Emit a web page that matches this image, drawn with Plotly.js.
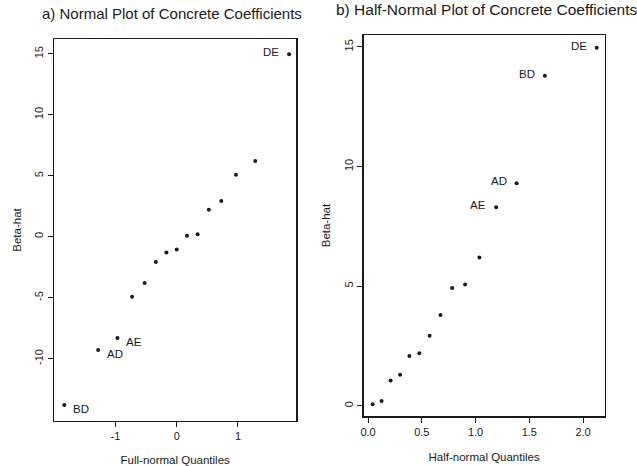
<!DOCTYPE html>
<html>
<head>
<meta charset="utf-8">
<script src="https://cdn.plot.ly/plotly-3.0.1.min.js"></script>
<style>html,body{margin:0;padding:0;background:#fff;}#chart{width:637px;height:466px;}</style>
</head>
<body>
<div id="chart"></div>
<script>
// Panel a: normal quantiles vs. effect estimates
const fullQuantiles = [-1.834, -1.282, -0.967, -0.728, -0.524, -0.341, -0.168, 0.0, 0.168, 0.341, 0.524, 0.728, 0.967, 1.282, 1.834];
const fullBeta = [-13.8, -9.3, -8.3, -4.93, -3.8, -2.08, -1.3, -1.06, 0.07, 0.2, 2.2, 2.93, 5.07, 6.2, 14.96];
const fullLabels = ["BD", "AD", "AE", "", "", "", "", "", "", "", "", "", "", "", "DE"];
const fullLabelSide = ["right", "right", "right", "", "", "", "", "", "", "", "", "", "", "", "left"];

// Panel b: half-normal quantiles vs. absolute effects
const halfQuantiles = [0.042, 0.126, 0.210, 0.298, 0.385, 0.477, 0.573, 0.674, 0.783, 0.903, 1.036, 1.192, 1.383, 1.645, 2.128];
const halfBeta = [0.07, 0.2, 1.06, 1.3, 2.08, 2.2, 2.93, 3.8, 4.93, 5.07, 6.2, 8.3, 9.3, 13.8, 14.96];
const halfLabels = ["", "", "", "", "", "", "", "", "", "", "", "AE", "AD", "BD", "DE"];

const titleA = "a) Normal Plot of Concrete Coefficients";
const titleB = "b) Half-Normal Plot of Concrete Coefficients";
const xTitleA = "Full-normal Quantiles";
const xTitleB = "Half-normal Quantiles";
const yTitle = "Beta-hat";

const fontFam = "Liberation Sans, Arial, sans-serif";
const ink = "#1a1a1a";

const traces = [
  {
    x: fullQuantiles, y: fullBeta,
    type: "scatter", mode: "markers",
    marker: {color: ink, size: 4},
    xaxis: "x", yaxis: "y", hoverinfo: "x+y", showlegend: false, cliponaxis: false
  },
  {
    x: halfQuantiles, y: halfBeta,
    type: "scatter", mode: "markers",
    marker: {color: ink, size: 4},
    xaxis: "x2", yaxis: "y2", hoverinfo: "x+y", showlegend: false, cliponaxis: false
  }
];

const labelFont = {family: fontFam, size: 11.5, color: ink};
const annotations = [];
fullLabels.forEach((lab, i) => {
  if (!lab) return;
  const right = fullLabelSide[i] === "right";
  annotations.push({
    text: lab, x: fullQuantiles[i], y: fullBeta[i], xref: "x", yref: "y",
    showarrow: false, xanchor: right ? "left" : "right", yanchor: "middle",
    xshift: right ? 7 : -8, yshift: right ? -4 : 2, font: labelFont
  });
});
halfLabels.forEach((lab, i) => {
  if (!lab) return;
  annotations.push({
    text: lab, x: halfQuantiles[i], y: halfBeta[i], xref: "x2", yref: "y2",
    showarrow: false, xanchor: "right", yanchor: "middle",
    xshift: -8, yshift: 2, font: labelFont
  });
});
annotations.push(
  {text: titleA, xref: "paper", yref: "paper", x: 40/637, y: 1 - 13/466,
   xanchor: "left", yanchor: "middle", showarrow: false,
   font: {family: fontFam, size: 15, color: ink}},
  {text: titleB, xref: "paper", yref: "paper", x: 334/637, y: 1 - 10/466,
   xanchor: "left", yanchor: "middle", showarrow: false,
   font: {family: fontFam, size: 15.5, color: ink}}
);

const axisCommon = {
  showgrid: false, zeroline: false, showline: true, mirror: true,
  linecolor: ink, linewidth: 1.4, ticks: "outside", ticklen: 5, tickwidth: 1,
  tickcolor: ink, tickfont: {family: fontFam, size: 11, color: ink}
};
const axisTitleFont = {family: fontFam, size: 11.5, color: ink};

const layout = {
  width: 637, height: 466,
  margin: {l: 0, r: 0, t: 0, b: 0},
  paper_bgcolor: "#fff", plot_bgcolor: "#fff",
  font: {family: fontFam, color: ink},
  xaxis: Object.assign({}, axisCommon, {
    domain: [0.085, 0.465], range: [-2.0, 1.95],
    tickvals: [-1, 0, 1], ticktext: ["-1", "0", "1"],
    title: {text: xTitleA, font: axisTitleFont},
    anchor: "y"
  }),
  yaxis: Object.assign({}, axisCommon, {
    domain: [0.097, 0.916], range: [-15.1, 16.2],
    tickvals: [-10, -5, 0, 5, 10, 15], ticktext: ["-10", "-5", "0", "5", "10", "15"],
    tickangle: -90,
    title: {text: yTitle, font: axisTitleFont},
    anchor: "x"
  }),
  xaxis2: Object.assign({}, axisCommon, {
    domain: [0.571, 0.949], range: [-0.04, 2.2],
    tickvals: [0, 0.5, 1, 1.5, 2], ticktext: ["0.0", "0.5", "1.0", "1.5", "2.0"],
    title: {text: xTitleB, font: axisTitleFont},
    anchor: "y2"
  }),
  yaxis2: Object.assign({}, axisCommon, {
    domain: [0.107, 0.925], range: [-0.43, 15.5],
    tickvals: [0, 5, 10, 15], ticktext: ["0", "5", "10", "15"],
    tickangle: -90,
    title: {text: yTitle, font: axisTitleFont},
    anchor: "x2"
  }),
  annotations: annotations
};

Plotly.newPlot("chart", traces, layout, {displayModeBar: false, staticPlot: true});
</script>
</body>
</html>
